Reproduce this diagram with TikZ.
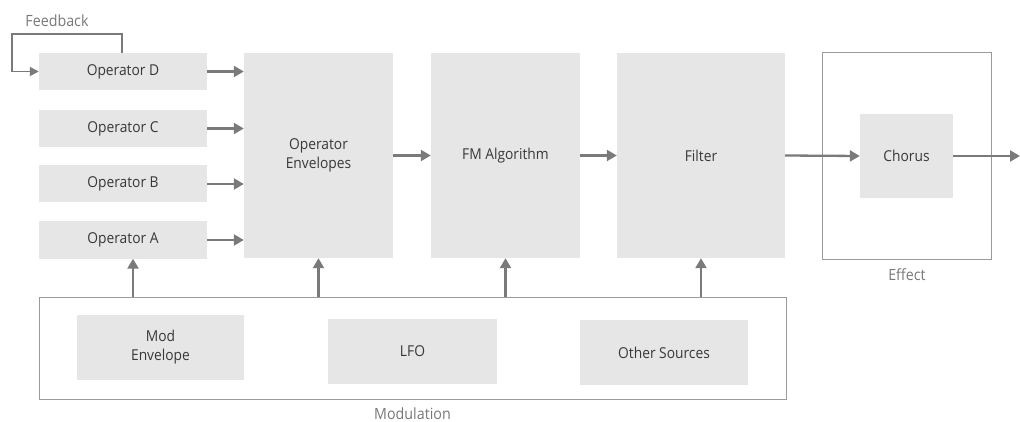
\documentclass[tikz,border=0pt]{standalone}
\usepackage{fontspec}
\setmainfont{Open Sans}[FakeStretch=0.92]
\usetikzlibrary{arrows.meta}
\definecolor{boxfill}{HTML}{E6E6E6}
\definecolor{txt}{HTML}{383838}
\definecolor{lbl}{HTML}{787878}
\definecolor{arrcol}{HTML}{7A7A7A}
\definecolor{frame}{HTML}{9A9A9A}
\begin{document}
\begin{tikzpicture}[x=1pt,y=-1pt,
  blk/.style={fill=boxfill,draw=none,inner sep=0pt,align=center,text=txt,font=\fontsize{15}{19}\selectfont},
  frm/.style={draw=frame,line width=1pt,fill=none,inner sep=0pt},
  grp/.style={text=lbl,font=\fontsize{15.5}{18}\selectfont,inner sep=0pt},
  arr/.style={draw=arrcol,line width=2.3pt,-{Triangle[length=10pt,width=11pt]}},
  fb/.style={draw=arrcol,line width=1.8pt,-{Triangle[length=9pt,width=9pt]}}]
\useasboundingbox (0,0) rectangle (1020,422);
% group frames
\node[frm,minimum width=169pt,minimum height=206pt] (effbox) at (906.5,156) {};
\node[frm,minimum width=747pt,minimum height=102pt] (modbox) at (412.5,348) {};
% operators
\node[blk,minimum width=168pt,minimum height=37pt] (opD) at (123,71.5) {Operator D};
\node[blk,minimum width=168pt,minimum height=37pt] (opC) at (123,128.5) {Operator C};
\node[blk,minimum width=168pt,minimum height=37pt] (opB) at (123,184) {Operator B};
\node[blk,minimum width=168pt,minimum height=37pt] (opA) at (123,240) {Operator A};
% main chain
\node[blk,minimum width=149pt,minimum height=205pt] (env) at (318.5,155.5) {Operator\\Envelopes};
\node[blk,minimum width=149pt,minimum height=205pt] (fm) at (505.5,155.5) {FM Algorithm};
\node[blk,minimum width=168pt,minimum height=205pt] (filt) at (701,155.5) {Filter};
\node[blk,minimum width=93pt,minimum height=84pt] (chorus) at (906.5,156) {Chorus};
% modulation sources
\node[blk,minimum width=167pt,minimum height=65pt] (modenv) at (160.5,347.5) {Mod\\Envelope};
\node[blk,minimum width=169pt,minimum height=65pt] (lfo) at (412.5,351.5) {LFO};
\node[blk,minimum width=168pt,minimum height=65pt] (other) at (664,352.5) {Other Sources};
% labels
\node[grp] (fblbl) at (57,21) {Feedback};
\node[grp] (efflbl) at (907,275) {Effect};
\node[grp] (modlbl) at (412.5,414) {Modulation};
% feedback loop
\coordinate (fbtop) at (12,34);
\draw[fb] ([xshift=-1pt]opD.north) |- (fbtop) |- (opD.west);
% operator arrows
\draw[arr] (opD.east) -- (opD.east -| env.west);
\draw[arr] (opC.east) -- (opC.east -| env.west);
\draw[arr] (opB.east) -- (opB.east -| env.west);
\draw[arr] (opA.east) -- (opA.east -| env.west);
% chain arrows
\draw[arr] (env.east) -- (fm.west);
\draw[arr] (fm.east) -- (filt.west);
\draw[arr] (filt.east) -- (chorus.west);
\coordinate (out) at (1020,156);
\draw[arr] (chorus.east) -- (out);
% modulation arrows
\draw[arr] ([xshift=10pt]opA.south |- modbox.north) -- ([xshift=10pt]opA.south);
\draw[arr] (env.south |- modbox.north) -- (env.south);
\draw[arr] (fm.south |- modbox.north) -- (fm.south);
\draw[arr] (filt.south |- modbox.north) -- (filt.south);
\end{tikzpicture}
\end{document}
